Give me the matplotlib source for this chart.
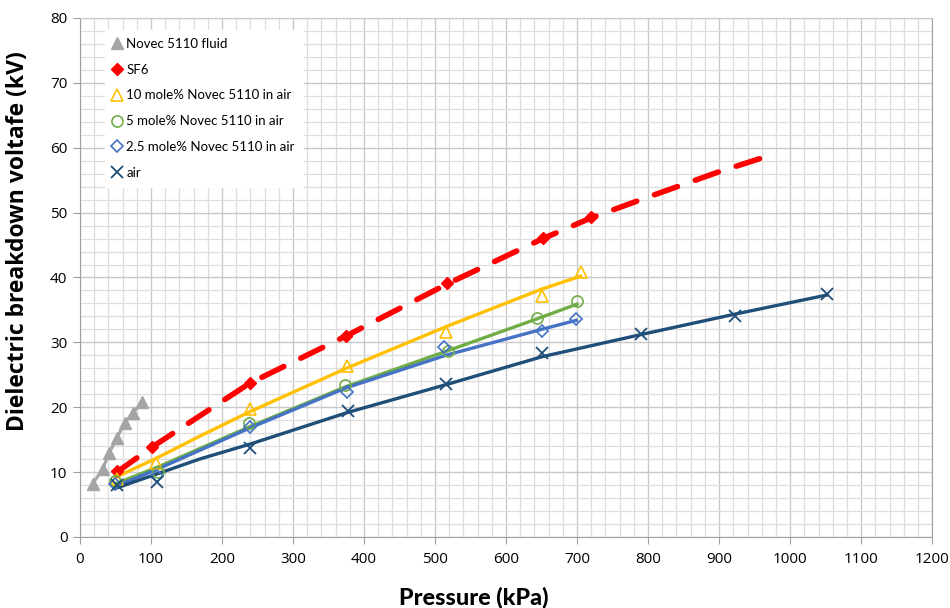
import matplotlib
matplotlib.use("Agg")
import matplotlib.pyplot as plt
from matplotlib.lines import Line2D
from matplotlib.ticker import MultipleLocator

plt.rcParams["font.family"] = ["Lato", "DejaVu Sans"]

# Novec 5110 fluid
novec_p = [18, 32, 41, 52, 63, 74, 88]
novec_v = [8.2, 10.5, 12.9, 15.3, 17.6, 19.1, 20.8]

# SF6 points and its trend line
sf6_p = [52, 102, 239, 375, 517, 652, 720]
sf6_v = [10.2, 13.9, 23.7, 31.0, 39.1, 46.1, 49.3]
sf6_fit_p = [52, 102, 239, 375, 517, 652, 720, 800, 900, 968]
sf6_fit_v = [10.0, 13.9, 23.7, 31.0, 39.0, 46.0, 49.2, 52.4, 56.3, 58.7]

# 10 mole% Novec 5110 in air
m10_p = [52, 107, 239, 376, 515, 650, 705]
m10_v = [8.9, 11.4, 19.8, 26.4, 31.6, 37.1, 40.9]
m10_fit_p = [50, 107, 168, 239, 375, 515, 650, 705]
m10_fit_v = [9.2, 12.1, 15.5, 19.3, 26.0, 32.4, 38.2, 40.2]

# 5 mole% Novec 5110 in air
m5_p = [50, 110, 238, 373, 518, 643, 700]
m5_v = [8.6, 10.0, 17.6, 23.4, 28.6, 33.8, 36.4]
m5_fit_p = [50, 110, 239, 375, 515, 643, 700]
m5_fit_v = [8.2, 10.8, 17.0, 23.2, 28.6, 33.6, 35.9]

# 2.5 mole% Novec 5110 in air
m25_p = [50, 108, 240, 376, 512, 651, 699]
m25_v = [8.2, 9.4, 17.0, 22.3, 29.3, 31.8, 33.6]
m25_fit_p = [50, 110, 239, 375, 515, 650, 699]
m25_fit_v = [7.8, 10.5, 16.8, 23.0, 28.0, 32.0, 33.4]

# air
air_p = [52, 108, 239, 377, 516, 651, 790, 922, 1052]
air_v = [8.0, 8.5, 13.7, 19.4, 23.6, 28.4, 31.3, 34.1, 37.5]
air_fit_p = [50, 108, 168, 239, 377, 516, 651, 790, 920, 1052]
air_fit_v = [7.5, 9.7, 12.0, 14.3, 19.2, 23.5, 27.8, 31.2, 34.3, 37.3]

GREY = "#A5A5A5"
RED = "#FF0000"
YELLOW = "#FFC000"
GREEN = "#70AD47"
BLUE = "#4472C4"
NAVY = "#1F4E79"

fig = plt.figure(figsize=(9.5, 6.08), dpi=100)
ax = fig.add_axes([0.0842, 0.1168, 0.897, 0.8536])

# grid
ax.xaxis.set_major_locator(MultipleLocator(100))
ax.xaxis.set_minor_locator(MultipleLocator(20))
ax.yaxis.set_major_locator(MultipleLocator(10))
ax.yaxis.set_minor_locator(MultipleLocator(2))
ax.grid(True, which="major", color="#C8C8C8", linewidth=1.0, zorder=0)
ax.grid(True, which="minor", color="#DDDDDD", linewidth=0.9, zorder=0)
ax.set_axisbelow(True)

# trend lines
ax.plot(novec_p, novec_v, color=GREY, linewidth=2.2, zorder=2)
ax.plot(m10_fit_p, m10_fit_v, color=YELLOW, linewidth=2.4, zorder=3)
ax.plot(m5_fit_p, m5_fit_v, color=GREEN, linewidth=2.4, zorder=3)
ax.plot(m25_fit_p, m25_fit_v, color=BLUE, linewidth=2.4, zorder=3)
ax.plot(air_fit_p, air_fit_v, color=NAVY, linewidth=2.4, zorder=3)
ax.plot(sf6_fit_p, sf6_fit_v, color=RED, linewidth=4.0, dashes=(4.4, 3.4),
        dash_capstyle="round", zorder=4)

# markers
ax.plot(novec_p, novec_v, linestyle="none", marker="^", markersize=8,
        color=GREY, zorder=5)
ax.plot(sf6_p, sf6_v, linestyle="none", marker="D", markersize=6,
        color=RED, zorder=5)
ax.plot(m10_p, m10_v, linestyle="none", marker="^", markersize=8,
        markerfacecolor="none", markeredgecolor=YELLOW, markeredgewidth=1.2, zorder=5)
ax.plot(m5_p, m5_v, linestyle="none", marker="o", markersize=8,
        markerfacecolor="none", markeredgecolor=GREEN, markeredgewidth=1.2, zorder=5)
ax.plot(m25_p, m25_v, linestyle="none", marker="D", markersize=6,
        markerfacecolor="none", markeredgecolor=BLUE, markeredgewidth=1.2, zorder=5)
ax.plot(air_p, air_v, linestyle="none", marker="x", markersize=9,
        color=NAVY, markeredgewidth=1.3, zorder=5)

ax.set_xlim(0, 1200)
ax.set_ylim(0, 80)

for side in ["left", "bottom", "right", "top"]:
    ax.spines[side].set_color("#A0A0A0")
ax.spines["top"].set_color("#C8C8C8")
ax.tick_params(axis="both", which="major", length=5, color="#A0A0A0",
               labelsize=11, pad=4, labelfontfamily="Open Sans")
ax.tick_params(axis="both", which="minor", length=0)
ax.tick_params(axis="x", which="major", pad=6)

ax.set_xlabel("Pressure (kPa)", fontsize=16.8, fontweight="black")
ax.xaxis.set_label_coords(0.4625, -0.095)
ax.set_ylabel("Dielectric breakdown voltafe (kV)", fontsize=16.5,
              fontweight="bold", family=["Open Sans", "DejaVu Sans"])
ax.yaxis.set_label_coords(-0.059, 0.57)

handles = [
    Line2D([], [], linestyle="none", marker="^", markersize=8, color=GREY),
    Line2D([], [], linestyle="none", marker="D", markersize=6, color=RED),
    Line2D([], [], linestyle="none", marker="^", markersize=8,
           markerfacecolor="none", markeredgecolor=YELLOW, markeredgewidth=1.2),
    Line2D([], [], linestyle="none", marker="o", markersize=8,
           markerfacecolor="none", markeredgecolor=GREEN, markeredgewidth=1.2),
    Line2D([], [], linestyle="none", marker="D", markersize=6,
           markerfacecolor="none", markeredgecolor=BLUE, markeredgewidth=1.2),
    Line2D([], [], linestyle="none", marker="x", markersize=9,
           color=NAVY, markeredgewidth=1.3),
]
labels = ["Novec 5110 fluid", "SF6", "10 mole% Novec 5110 in air",
          "5 mole% Novec 5110 in air", "2.5 mole% Novec 5110 in air", "air"]
leg = ax.legend(handles, labels, loc="upper left", bbox_to_anchor=(0.022, 0.99),
                fontsize=9.5, frameon=True, fancybox=False, framealpha=1,
                edgecolor="white", handlelength=0.6, handletextpad=0.4,
                labelspacing=1.05, borderpad=0.6)

fig.savefig("out.png", dpi=100)
